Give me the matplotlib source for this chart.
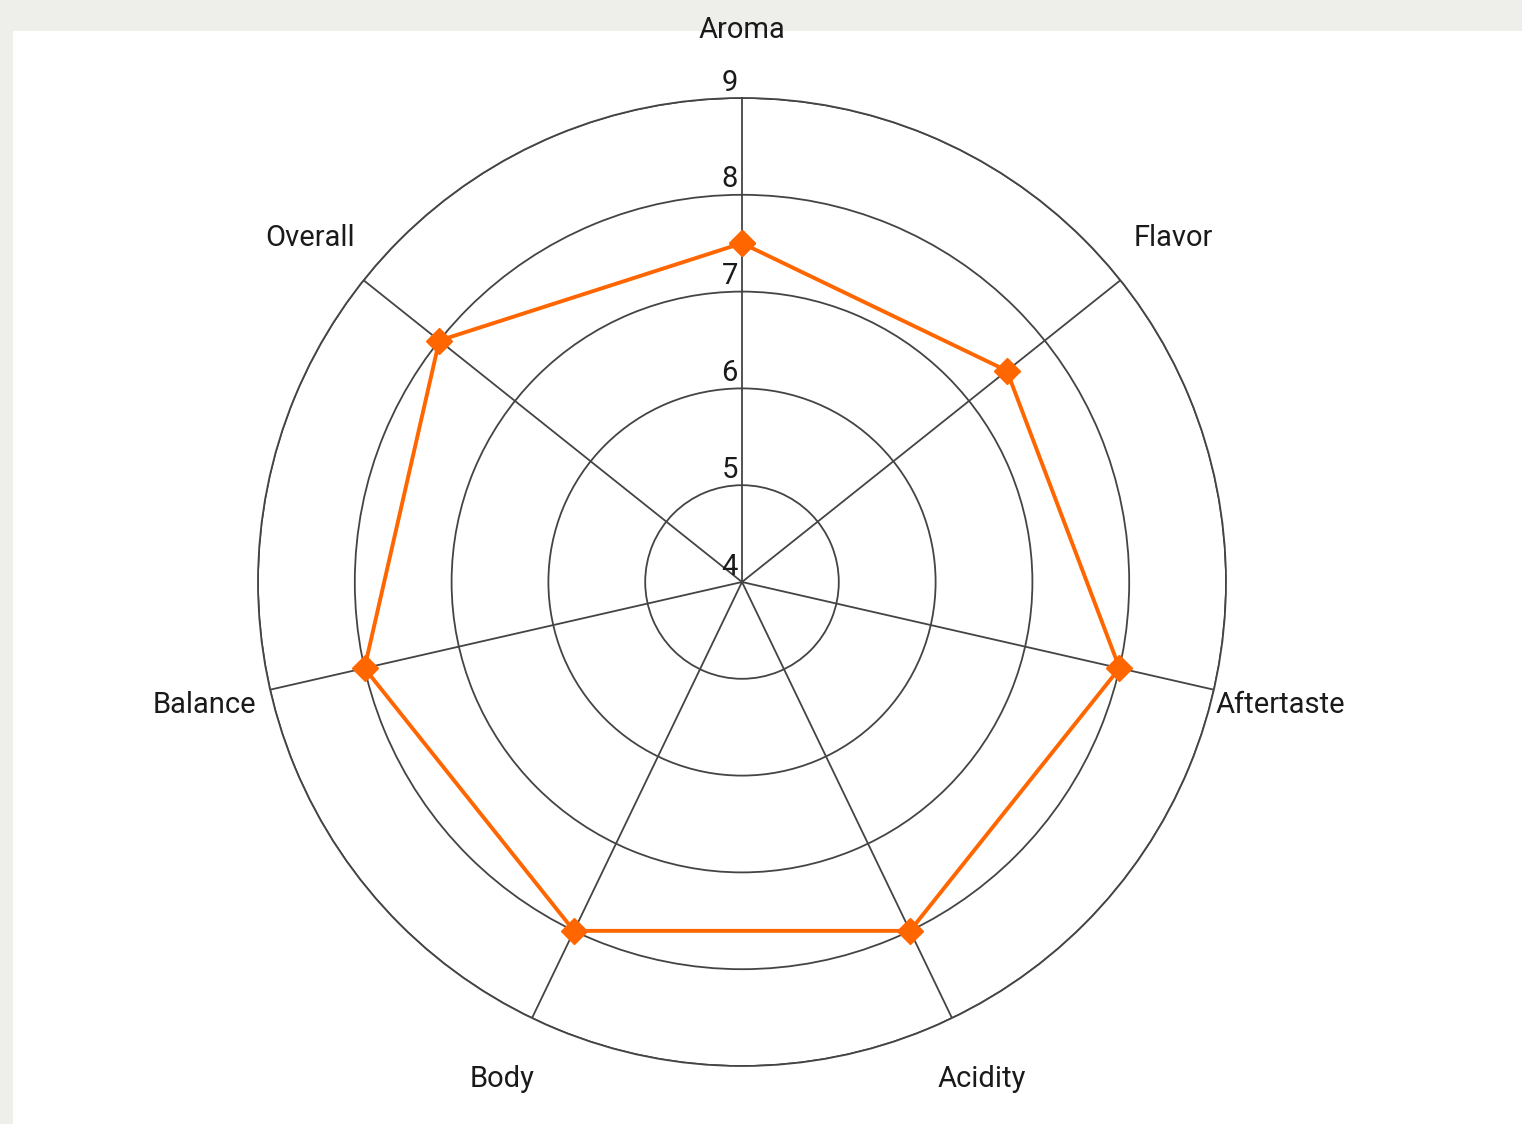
import numpy as np
import matplotlib.pyplot as plt
from matplotlib.patches import Rectangle

plt.rcParams['font.family'] = ['Roboto', 'DejaVu Sans']

# data
categories = ["Aroma", "Flavor", "Aftertaste", "Acidity", "Body", "Balance", "Overall"]
scores = [7.5, 7.5, 8.0, 8.0, 8.0, 8.0, 8.0]
rticks = [4, 5, 6, 7, 8, 9]

W, H = 1522, 1124
cx, cy, R = 742, 582, 484

fig = plt.figure(figsize=(W / 100, H / 100), dpi=100)
fig.patch.set_facecolor("#eeeeea")
fig.patches.append(Rectangle((13 / W, 0), 1, 1 - 31 / H, transform=fig.transFigure,
                             facecolor="white", edgecolor="none", zorder=-10))

ax = fig.add_axes([(cx - R) / W, (H - cy - R) / H, 2 * R / W, 2 * R / H], projection="polar")
ax.set_facecolor("none")
ax.set_theta_zero_location("N")
ax.set_theta_direction(-1)
ax.set_ylim(rticks[0], rticks[-1])

n = len(categories)
angles = np.arange(n) * 2 * np.pi / n

ax.set_xticks(angles)
ax.set_xticklabels([])
ax.set_yticks(rticks)
ax.set_yticklabels([])
ax.tick_params(length=0)
ax.grid(True, color="#444444", linewidth=1.3)
ax.spines["polar"].set_color("#444444")
ax.spines["polar"].set_linewidth(1.3)

# category labels
for a, name in zip(angles, categories):
    ax.text(a, 9 + 68 / 97, name, ha="center", va="center", fontsize=21, color="#1a1a1a")

# radial labels
for r in rticks:
    ax.annotate(str(r), xy=(0, r), xytext=(-3, 1), textcoords="offset points",
                ha="right", va="bottom", fontsize=21, color="#1a1a1a")

# series
th = np.append(angles, angles[0])
vals = np.append(scores, scores[0])
ax.plot(th, vals, color="#ff6600", linewidth=2.8, marker="D", markersize=13,
        clip_on=False, zorder=5)

fig.savefig("out.png", dpi=100, facecolor=fig.get_facecolor())
